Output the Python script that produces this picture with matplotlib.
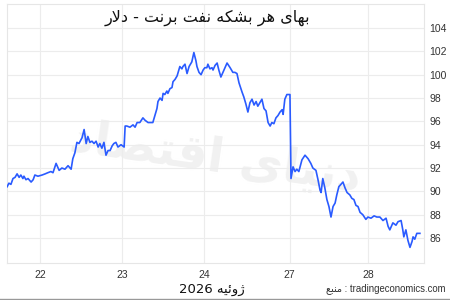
import matplotlib
matplotlib.use("Agg")
import matplotlib.pyplot as plt
from matplotlib.lines import Line2D

# Hours of trading time (weekend removed) and Brent price (USD)
hours = [-9.6, -9.1, -8.5, -7.9, -7.3, -6.7, -6.1, -5.6, -5.0, -4.7, -4.1, -3.5, -2.6, -2.0, -1.5, -0.6,
         0.6, 1.5, 2.3, 3.2, 3.8, 4.7, 5.6, 6.4, 7.3, 8.2, 9.1, 9.6, 10.2, 10.8, 11.4, 12.3, 12.9, 13.5,
         14.0, 14.6, 15.2, 15.8, 16.4, 17.0, 17.5, 18.1, 18.7, 19.3, 19.9, 20.5, 21.1, 21.6, 22.2, 22.8,
         23.7, 24.6, 24.9, 25.4, 26.3, 27.2, 27.8, 28.4, 29.2, 30.1, 30.7, 31.6, 32.2, 33.0, 33.6, 34.2,
         34.5, 35.1, 35.7, 36.0, 36.5, 37.1, 37.4, 38.0, 38.6, 38.9, 39.5, 40.1, 40.4, 40.9, 41.5, 41.8,
         42.4, 43.0, 43.6, 44.4, 44.7, 45.0, 45.6, 45.9, 46.5, 47.1, 47.7, 48.2, 48.8, 49.1, 49.7, 50.3,
         50.6, 51.2, 51.8, 52.3, 52.9, 53.5, 54.1, 54.7, 55.6, 56.4, 57.0, 57.6, 58.2, 59.1, 59.6, 60.2,
         60.8, 61.4, 62.0, 62.6, 63.2, 63.7, 64.3, 64.9, 65.5, 66.1, 66.7, 67.3, 67.8, 68.4, 69.0, 69.6,
         70.2, 70.8, 71.1, 71.6, 72.2, 73.1, 73.4, 74.0, 74.6, 75.1, 75.7, 76.6, 77.5, 78.4, 79.2, 79.8,
         80.7, 81.3, 81.9, 82.2, 82.7, 83.3, 83.9, 84.5, 85.1, 85.7, 86.3, 86.8, 87.4, 88.3, 88.6, 89.2,
         89.8, 90.6, 91.2, 91.8, 92.4, 93.0, 93.6, 94.4, 95.3, 95.9, 96.8, 97.7, 98.5, 99.4, 100.3, 101.2,
         101.8, 102.3, 103.2, 104.1, 104.7, 105.6, 106.1, 106.4, 107.0, 107.6, 108.2, 108.8, 109.1, 109.6,
         110.2, 110.5, 111.1]
price = [90.4, 90.7, 90.6, 91.1, 91.2, 91.5, 91.2, 91.4, 91.1, 91.3, 91.0, 91.1, 90.8, 91.0, 91.4, 91.3,
         91.4, 91.5, 91.6, 91.7, 91.6, 92.4, 91.8, 92.0, 91.9, 92.2, 91.9, 92.8, 93.3, 94.2, 94.1, 94.6, 95.3, 94.1,
         94.7, 94.2, 94.3, 94.1, 94.3, 93.8, 94.1, 93.7, 94.2, 93.1, 93.5, 93.5, 93.9, 94.1, 94.2, 93.8,
         94.0, 93.8, 95.6, 95.6, 95.5, 95.7, 95.5, 95.9, 95.9, 96.3, 96.1, 95.9, 95.9, 95.9, 96.5, 97.1,
         97.7, 98.0, 97.8, 98.4, 98.3, 98.6, 98.4, 98.8, 98.9, 99.4, 99.6, 99.9, 100.2, 100.7, 100.5, 100.7,
         100.9, 100.1, 100.7, 101.1, 101.5, 101.9, 101.2, 100.7, 100.2, 100.0, 100.4, 100.6, 100.6, 100.9, 100.5, 100.6,
         100.4, 100.8, 101.0, 100.4, 99.8, 100.2, 100.6, 101.0, 100.6, 100.2, 100.2, 100.1, 99.3, 98.5, 98.1, 97.5,
         96.8, 97.6, 97.9, 97.4, 97.7, 97.3, 97.6, 97.9, 97.1, 96.9, 95.9, 95.6, 95.9, 95.8, 96.3, 96.5,
         96.8, 97.0, 96.6, 97.9, 98.3, 98.3, 91.1, 92.1, 91.7, 91.9, 91.7, 92.7, 93.1, 92.8, 92.4, 92.0,
         91.8, 91.0, 90.1, 89.9, 91.1, 90.3, 89.3, 88.7, 87.8, 88.7, 89.0, 89.7, 90.4, 90.7, 90.8, 90.3,
         89.9, 89.7, 89.4, 89.3, 88.8, 88.7, 88.2, 88.0, 87.6, 87.8, 87.7, 87.9, 87.8, 87.8, 87.5, 87.7,
         87.0, 86.7, 87.3, 87.1, 87.4, 87.5, 86.7, 86.1, 86.7, 85.8, 85.2, 85.7, 86.1, 85.9,
         86.4, 86.4, 86.4]

xtick_pos = [0, 24, 48, 73, 96]
xtick_labels = ["22", "23", "24", "27", "28"]
yticks = [86, 88, 90, 92, 94, 96, 98, 100, 102, 104]

# Pre-shaped (visual order) Persian strings
title = "\uFEAD\uFEFB\uFEA9 - \uFE96\uFEE7\uFEAE\uFE91 \uFE96\uFED4\uFEE7 \uFEEA\uFB91\uFEB8\uFE91 \uFEAE\uFEEB \uFBFC\uFE8E\uFEEC\uFE91"
xlabel = "2026 \uFEEA\uFBFF\uFE8B\uFEED\uFB8A"
source = "\uFECA\uFE92\uFEE8\uFEE3 : tradingeconomics.com"
watermark = "\uFEA9\uFE8E\uFEBC\uFE98\uFED7\uFE8D \uFBFC\uFE8E\uFBFF\uFEE7\uFEA9"

plt.rcParams['font.family'] = ['Liberation Sans', 'DejaVu Sans']

fig = plt.figure(figsize=(4.5, 3.0), dpi=100)
ax = fig.add_axes([7/450, 37/300, 417/450, 259/300])

ax.plot(hours, price, color="#2a5bff", lw=1.2, zorder=3)

ax.set_xlim(-9.65, 112.3)
ax.set_ylim(83.86, 106.06)
ax.set_xticks(xtick_pos)
ax.set_xticklabels(xtick_labels)
ax.set_yticks(yticks)
ax.yaxis.tick_right()
ax.tick_params(axis='both', length=0, labelsize=7.5, colors="#333333")
ax.tick_params(axis='y', pad=4)
ax.tick_params(axis='x', pad=5)
ax.grid(True, color="#ececec", lw=0.8)
for s in ax.spines.values():
    s.set_color("#e6e6e6")
    s.set_linewidth(0.8)

fig.text(207/450, 1 - 18/300, title, ha="center", va="center",
         fontsize=11.5, color="#111111", zorder=4, family=['DejaVu Sans'])
ax.text(0.5, 0.4, watermark, transform=ax.transAxes, ha="center", va="center",
        fontsize=34, color="#f1f1f1", fontweight="bold", zorder=1, rotation=-8,
        family=['DejaVu Sans'])

fig.text(212/450, 1 - 289/300, xlabel, ha="center", va="center", fontsize=9.5, color="#111111",
         family=['DejaVu Sans'])
fig.text(446/450, 1 - 289/300, source, ha="right", va="center", fontsize=6.9, color="#333333")
fig.add_artist(Line2D([0, 1], [0.003, 0.003], color="#999999", lw=1, transform=fig.transFigure))

fig.savefig("out.png", dpi=100)
